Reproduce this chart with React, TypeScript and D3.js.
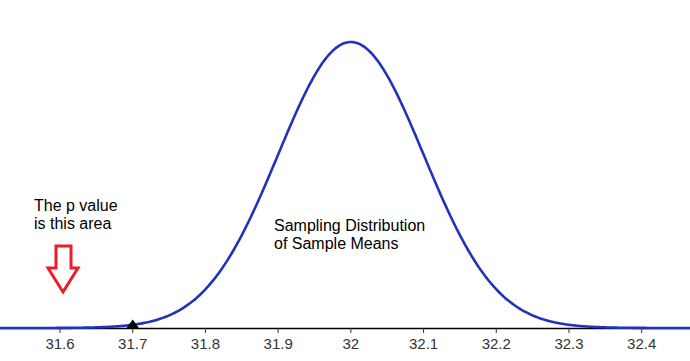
import React from "react";
import * as d3 from "d3";

// distribution parameters
const mean = 32;
const sd = 0.1;
const ticks = [31.6, 31.7, 31.8, 31.9, 32, 32.1, 32.2, 32.3, 32.4];
const observed = 31.7;
const pLabel = ["The p value", "is this area"];
const curveLabel = ["Sampling Distribution", "of Sample Means"];

const width = 690;
const height = 361;

export default function App() {
    const x = d3.scaleLinear().domain([31.6, 32.4]).range([60, 641.7]);
    const y = d3.scaleLinear().domain([0, 1]).range([328, 42]);

    const xs = d3.range(x.invert(-5), x.invert(width + 5), 0.002);
    const line = d3.line<number>()
        .x(d => x(d))
        .y(d => y(Math.exp(-0.5 * ((d - mean) / sd) ** 2)))
        .curve(d3.curveBasis);

    const ox = x(observed);

    // hollow down arrow
    const ax = 63;
    const arrow = `M${ax - 7},246 L${ax + 8},246 L${ax + 8},268 L${ax + 15},268 L${ax},292 L${ax - 15},268 L${ax - 7},268 Z`;

    return (
        <svg width={width} height={height} style={{ position: "absolute", left: 0, top: 0 }}
            fontFamily="'Liberation Sans', Arial, sans-serif">
            <rect width={width} height={height} fill="#fff" />
            <line x1={0} x2={width} y1={328.5} y2={328.5} stroke="#000" strokeWidth={1.5} />
            {ticks.map(t => (
                <g key={t} transform={`translate(${x(t)},0)`}>
                    <line y1={328} y2={333} stroke="#333" strokeWidth={1} />
                    <text y={349} textAnchor="middle" fontSize={15} fill="#333">{t}</text>
                </g>
            ))}
            <path d={line(xs) ?? ""} fill="none" stroke="#2233bb" strokeWidth={2.6} />
            <path d={`M${ox - 6.5},328.5 L${ox + 6.5},328.5 L${ox},319.5 Z`} fill="#000" />
            <path d={arrow} fill="none" stroke="#ee1c25" strokeWidth={3} strokeLinejoin="miter" />
            <text x={34} fontSize={16} fill="#000">
                {pLabel.map((s, i) => <tspan key={i} x={34} y={211 + i * 18}>{s}</tspan>)}
            </text>
            <text x={274} fontSize={16} fill="#000">
                {curveLabel.map((s, i) => <tspan key={i} x={274} y={231 + i * 18}>{s}</tspan>)}
            </text>
        </svg>
    );
}
